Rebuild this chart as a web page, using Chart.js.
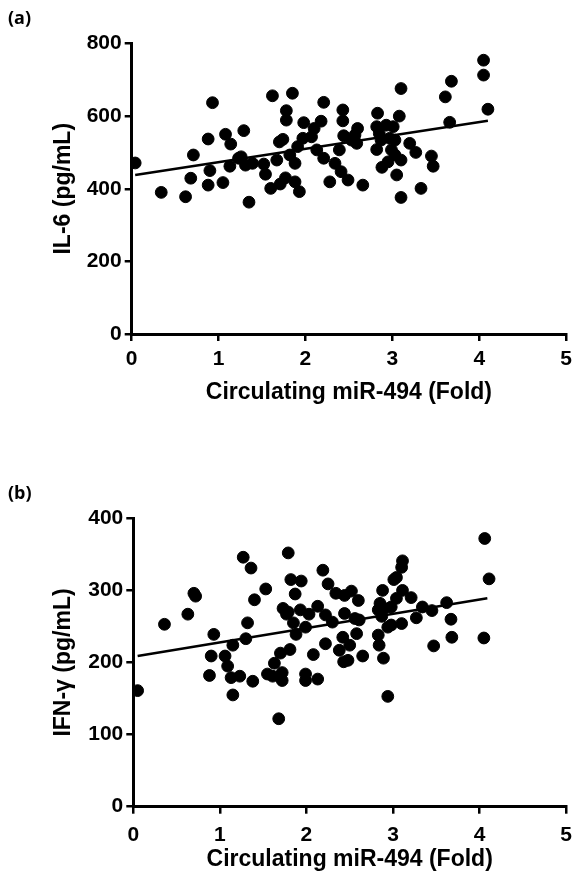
<!DOCTYPE html>
<html>
<head>
<meta charset="utf-8">
<script src="https://cdn.jsdelivr.net/npm/chart.js@4.4.1/dist/chart.umd.min.js"></script>
<style>
  body { margin: 0; background: #fff; width: 573px; height: 873px; position: relative; overflow: hidden; }
  .panel { position: absolute; left: 0; }
  .tag { position: absolute; left: 8px; font-family: "Open Sans", sans-serif; font-weight: 700; font-size: 18px; color: #000; }
  canvas { display: block; }
</style>
</head>
<body>
<div class="panel" style="top:0"><canvas id="chartA" width="573" height="430"></canvas></div>
<div class="panel" style="top:440px"><canvas id="chartB" width="573" height="433"></canvas></div>
<div class="tag" style="top:5px">(a)</div>
<div class="tag" style="top:480px">(b)</div>
<script>
// panel (a): IL-6 vs circulating miR-494
const il6Fold = [
  0.04, 0.34, 0.62, 0.68, 0.71, 0.88, 0.90, 0.88, 0.93, 1.05, 1.08, 1.14, 1.13, 1.23, 1.26,
  1.31, 1.39, 1.29, 1.35, 1.52, 1.54, 1.60, 1.62, 1.67, 1.70, 1.74, 1.71, 1.77, 1.78, 1.78,
  1.85, 1.82, 1.88, 1.88, 1.93, 1.91, 1.97, 1.98, 2.07, 2.10, 2.13, 2.18, 2.21, 2.21, 2.28,
  2.34, 2.39, 2.41, 2.43, 2.43, 2.44, 2.49, 4.05, 4.05, 4.10, 3.68, 3.61, 3.66, 3.10, 3.08,
  2.83, 2.60, 2.57, 2.53, 2.59, 2.82, 2.85, 2.93, 3.01, 2.87, 2.97, 3.03, 2.82, 2.99, 3.03,
  3.10, 3.20, 3.27, 3.45, 3.47, 2.95, 2.88, 3.05, 3.33, 3.10, 2.66
];
const il6Values = [
  471, 390, 378, 429, 493, 410, 450, 537, 637, 417, 550, 523, 462, 484, 488,
  465, 470, 560, 363, 468, 440, 401, 656, 479, 529, 536, 413, 430, 615, 589,
  663, 493, 470, 419, 392, 516, 539, 582, 543, 566, 507, 586, 484, 638, 419,
  470, 507, 447, 617, 587, 546, 424, 754, 713, 619, 696, 653, 583, 676, 600,
  608, 566, 548, 534, 525, 571, 552, 575, 571, 534, 539, 534, 508, 507, 493,
  479, 525, 500, 490, 462, 474, 459, 438, 401, 376, 410
];
const il6FitX = [0.04, 4.10];
const il6FitY = [438, 587];
const il6Ticks = [0, 200, 400, 600, 800];

// panel (b): IFN-γ vs circulating miR-494
const ifnFold = [
  0.36, 0.63, 0.70, 0.72, 0.93, 0.90, 1.06, 1.09, 1.15, 1.27, 1.36, 1.40, 1.53, 1.32, 1.30,
  1.63, 1.70, 1.81, 1.79, 1.82, 1.94, 1.87, 1.73, 1.79, 1.77, 1.85, 1.88, 1.93, 1.99, 2.03,
  2.13, 2.19, 2.25, 2.22, 2.30, 2.34, 2.44, 2.44, 2.08, 2.22, 2.38, 2.42, 2.43,
  4.06, 4.11, 4.05, 3.62, 3.67, 3.68, 3.47, 3.45, 3.34, 3.27, 3.21, 3.11, 3.10, 3.04, 3.01,
  3.11, 2.88, 3.04, 2.85, 2.83, 2.90, 2.98, 2.87, 2.98, 3.10, 2.94, 2.83, 2.84, 2.89, 2.65,
  2.58, 2.60, 2.52, 2.61, 2.56, 2.50, 2.48,
  0.05, 0.88, 1.13, 1.23, 1.15, 1.38, 1.55, 1.61, 1.72, 1.72, 1.68, 1.99, 1.99, 2.13, 2.94
];
const ifnValues = [
  253, 267, 296, 292, 239, 209, 209, 195, 224, 346, 331, 287, 302, 255, 233,
  199, 213, 218, 352, 315, 313, 295, 275, 270, 267, 255, 239, 273, 249, 267,
  278, 328, 309, 266, 256, 296, 293, 268, 211, 226, 217, 235, 201,
  372, 316, 234, 283, 260, 235, 223, 272, 277, 262, 290, 341, 332, 318, 315,
  300, 300, 289, 282, 273, 275, 277, 264, 252, 254, 249, 238, 224, 206, 209,
  240, 286, 299, 259, 261, 224, 203,
  161, 182, 179, 181, 155, 174, 184, 181, 186, 175, 122, 184, 175, 177, 153
];
const ifnFitX = [0.05, 4.09];
const ifnFitY = [209, 289];
const ifnTicks = [0, 100, 200, 300, 400];

const xTicks = [0, 1, 2, 3, 4, 5];
const xTitle = "Circulating miR-494 (Fold)";

const tickFont = { family: "'Liberation Sans', Arial, sans-serif", size: 21, weight: "bold" };
const titleFont = { family: "'Liberation Sans', Arial, sans-serif", size: 23, weight: "bold" };

function toPoints(xs, ys) {
  return xs.map((x, i) => ({ x: x, y: ys[i] }));
}

function axisStyle() {
  return {
    grid: { display: true, drawOnChartArea: false, drawTicks: true, tickLength: 7, color: "#000", lineWidth: 2.5 },
    border: { display: true, color: "#000", width: 3 },
  };
}

function makeChart(id, xs, ys, fitX, fitY, yTicks, yTitle, box) {
  const ctx = document.getElementById(id).getContext("2d");
  const canvasHeight = ctx.canvas.height;
  return new Chart(ctx, {
    data: {
      datasets: [
        {
          type: "line",
          data: toPoints(fitX, fitY),
          borderColor: "#000",
          borderWidth: 2.5,
          pointRadius: 0,
          fill: false,
        },
        {
          type: "scatter",
          data: toPoints(xs, ys),
          backgroundColor: "#000",
          borderColor: "#000",
          borderWidth: 1,
          pointRadius: 5.9,
        },
      ],
    },
    options: {
      responsive: false,
      animation: false,
      events: [],
      layout: { padding: { top: box.top, right: box.right, left: 0, bottom: 0 } },
      plugins: { legend: { display: false }, tooltip: { enabled: false } },
      scales: {
        x: {
          type: "linear",
          min: xTicks[0],
          max: xTicks[xTicks.length - 1],
          afterBuildTicks: (s) => { s.ticks = xTicks.map((v) => ({ value: v })); },
          afterFit: (s) => {
            s.height = canvasHeight - box.bottom;
            s.paddingLeft = 0;
            s.paddingRight = 0;
          },
          ticks: { font: tickFont, color: "#000", padding: box.xTickPad, autoSkip: false, maxRotation: 0 },
          title: { display: true, text: xTitle, font: titleFont, color: "#000", padding: { top: 0, bottom: box.xTitlePad } },
          ...axisStyle(),
        },
        y: {
          type: "linear",
          min: yTicks[0],
          max: yTicks[yTicks.length - 1],
          afterBuildTicks: (s) => { s.ticks = yTicks.map((v) => ({ value: v })); },
          afterFit: (s) => {
            s.width = box.left;
            s.paddingTop = 0;
            s.paddingBottom = 0;
          },
          ticks: { font: tickFont, color: "#000", padding: 3, autoSkip: false },
          title: { display: true, text: yTitle, font: titleFont, color: "#000", padding: { top: box.yTitlePad, bottom: 0 } },
          ...axisStyle(),
        },
      },
    },
  });
}

makeChart("chartA", il6Fold, il6Values, il6FitX, il6FitY, il6Ticks, "IL-6 (pg/mL)",
  { left: 131.7, right: 6.3, top: 43.5, bottom: 334, xTickPad: 5.7, xTitlePad: 24, yTitlePad: 50 });
makeChart("chartB", ifnFold, ifnValues, ifnFitX, ifnFitY, ifnTicks, "IFN-γ (pg/mL)",
  { left: 133.3, right: 6.3, top: 78.3, bottom: 366.7, xTickPad: 9, xTitlePad: 0, yTitlePad: 50 });
</script>
</body>
</html>
